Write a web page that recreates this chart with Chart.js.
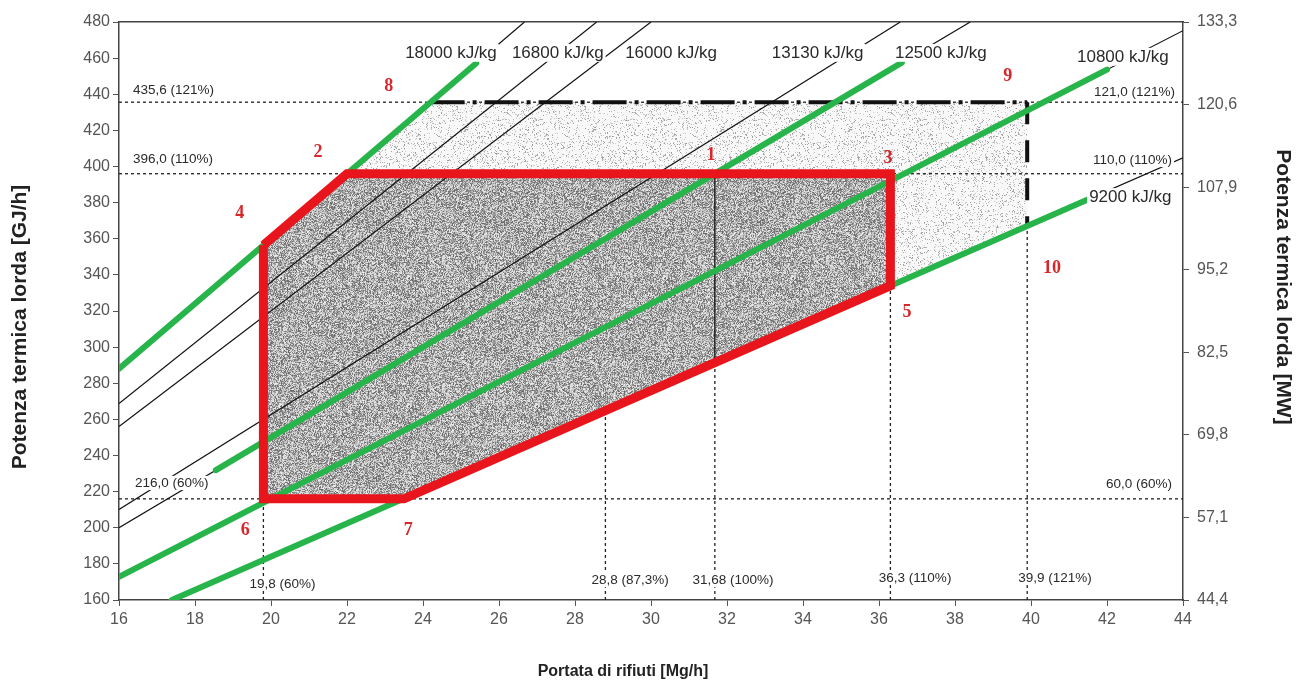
<!DOCTYPE html>
<html lang="it">
<head>
<meta charset="utf-8">
<title>Diagramma di combustione</title>
<script src="https://cdn.jsdelivr.net/npm/chart.js@4.4.1/dist/chart.umd.min.js"></script>
<style>
  html, body { margin: 0; padding: 0; background: #fff; }
  #box { width: 1296px; height: 686px; }
</style>
</head>
<body>
<div id="box"><canvas id="grafico" width="1296" height="686"></canvas></div>
<script>
// Asse destro in MW (stessa scala di quello sinistro in GJ/h)
const tickMW = [44.4, 57.1, 69.8, 82.5, 95.2, 107.9, 120.6, 133.3];

// Rette a potere calorifico costante (portata Mg/h, potenza GJ/h)
const isoNomi = ['18000 kJ/kg', '16800 kJ/kg', '16000 kJ/kg', '13130 kJ/kg', '12500 kJ/kg', '10800 kJ/kg', '9200 kJ/kg'];
const isoInizio = [[16, 288], [16, 268.8], [16, 256], [16, 210.1], [16, 200], [16, 172.8], [17.39, 160]];
const isoFine = [[26.67, 480], [28.57, 480], [30, 480], [36.56, 480], [38.4, 480], [44, 475.2], [44, 404.8]];

// Rette evidenziate in verde
const verdiInizio = [[16, 288], [18.55, 231.9], [16, 172.8], [17.39, 160]];
const verdiFine = [[25.4, 457.2], [36.6, 457.5], [42, 453.6], [41.6, 382.7]];

// Campo di funzionamento (punti 4-2-3-5-7-6)
const campoX = [19.8, 22, 36.3, 36.3, 23.5, 19.8, 19.8];
const campoY = [356.4, 396, 396, 334, 216, 216, 356.4];

// Campo di sovraccarico (punti 4-8-9-10-7-6)
const sovraX = [19.8, 24.2, 39.9, 39.9, 23.5, 19.8, 19.8];
const sovraY = [356.4, 435.6, 435.6, 367.1, 216, 216, 356.4];

// Linee di riferimento
const rifOrizz = [435.6, 396, 216];
const rifVert = [19.8, 28.8, 31.68, 36.3, 39.9];
const rifVertTop = [216, 265, 291.5, 334, 367.1];

// Punti numerati
const puntiNomi = ['1', '2', '3', '4', '5', '6', '7', '8', '9', '10'];
const puntiX = [31.58, 21.24, 36.24, 19.18, 36.74, 19.32, 23.61, 23.1, 39.39, 40.55];
const puntiY = [406.4, 408.1, 404.7, 374.3, 319.5, 198.8, 198.8, 444.6, 450.1, 343.8];

// Etichette (testo, posizione in coordinate del grafico)
const note = [
  { t: '435,6 (121%)', x: 16.37, y: 442.4, a: 'left', f: '13.5px "Liberation Sans"' },
  { t: '396,0 (110%)', x: 16.37, y: 404.2, a: 'left', f: '13.5px "Liberation Sans"' },
  { t: '216,0 (60%)', x: 16.42, y: 224.8, a: 'left', f: '13.5px "Liberation Sans"' },
  { t: '121,0 (121%)', x: 43.79, y: 441.3, a: 'right', f: '13.5px "Liberation Sans"' },
  { t: '110,0 (110%)', x: 43.71, y: 403.6, a: 'right', f: '13.5px "Liberation Sans"' },
  { t: '60,0 (60%)', x: 43.71, y: 224.2, a: 'right', f: '13.5px "Liberation Sans"' },
  { t: '19,8 (60%)', x: 20.3, y: 168.9, a: 'center', f: '13.5px "Liberation Sans"' },
  { t: '28,8 (87,3%)', x: 29.45, y: 171, a: 'center', f: '13.5px "Liberation Sans"' },
  { t: '31,68 (100%)', x: 32.16, y: 171, a: 'center', f: '13.5px "Liberation Sans"' },
  { t: '36,3 (110%)', x: 36.95, y: 172.2, a: 'center', f: '13.5px "Liberation Sans"' },
  { t: '39,9 (121%)', x: 40.63, y: 172.2, a: 'center', f: '13.5px "Liberation Sans"' },
  { t: isoNomi[0], x: 23.53, y: 462.9, a: 'left', f: '17px "Liberation Sans"' },
  { t: isoNomi[1], x: 26.34, y: 462.9, a: 'left', f: '17px "Liberation Sans"' },
  { t: isoNomi[2], x: 29.32, y: 462.9, a: 'left', f: '17px "Liberation Sans"' },
  { t: isoNomi[3], x: 33.18, y: 462.9, a: 'left', f: '17px "Liberation Sans"' },
  { t: isoNomi[4], x: 36.42, y: 462.9, a: 'left', f: '17px "Liberation Sans"' },
  { t: isoNomi[5], x: 41.21, y: 460.7, a: 'left', f: '17px "Liberation Sans"' },
  { t: isoNomi[6], x: 41.53, y: 383.1, a: 'left', f: '17px "Liberation Sans"' }
];

// Trama puntinata per le aree (solo aspetto grafico)
function hash(i) {
  const t = Math.sin(i * 12.9898 + 78.233) * 43758.5453;
  return t - Math.floor(t);
}
function creaTrama(chiaro) {
  const c = document.createElement('canvas');
  c.width = 128; c.height = 128;
  const g = c.getContext('2d');
  const img = g.createImageData(128, 128);
  for (let i = 0; i < 128 * 128; i++) {
    const r = hash(i), s = hash(i + 7919);
    let v;
    if (chiaro) v = r < 0.15 ? 150 + s * 70 : 248;
    else v = r < 0.5 ? 100 + s * 70 : 180 + s * 60;
    img.data[i * 4] = v; img.data[i * 4 + 1] = v; img.data[i * 4 + 2] = v; img.data[i * 4 + 3] = 255;
  }
  g.putImageData(img, 0, 0);
  return g.createPattern(c, 'repeat');
}

function punti(xs, ys) { return xs.map((x, i) => ({ x: x, y: ys[i] })); }
function segmento(a, b, stile) {
  return Object.assign({ data: [{ x: a[0], y: a[1] }, { x: b[0], y: b[1] }], pointRadius: 0, fill: false, tension: 0 }, stile);
}

const datasets = [];

// aree
datasets.push({ data: punti(sovraX, sovraY), fill: 'shape', backgroundColor: creaTrama(true), borderColor: 'transparent', borderWidth: 0, pointRadius: 0, order: 20 });
datasets.push({ data: punti(campoX, campoY), fill: 'shape', backgroundColor: creaTrama(false), borderColor: 'transparent', borderWidth: 0, pointRadius: 0, order: 19 });

// linee tratteggiate di riferimento
rifOrizz.forEach(v => datasets.push(segmento([16, v], [44, v], { borderColor: '#222', borderWidth: 1.3, borderDash: [3, 3], order: 15 })));
rifVert.forEach((v, i) => datasets.push(segmento([v, 160], [v, rifVertTop[i]], { borderColor: '#222', borderWidth: 1.3, borderDash: [3, 3], order: 15 })));

// rette iso-potere calorifico
isoInizio.forEach((p, i) => datasets.push(segmento(p, isoFine[i], { borderColor: '#111', borderWidth: 1.2, order: 14 })));

// linea verticale al 100%
datasets.push(segmento([31.68, 291.5], [31.68, 396], { borderColor: '#111', borderWidth: 1.3, order: 13 }));

// limiti di sovraccarico (tratto spesso)
datasets.push(segmento([24.2, 435.6], [39.9, 435.6], { borderColor: '#111', borderWidth: 4, borderDash: [34, 8, 4, 8], order: 12 }));
datasets.push(segmento([39.9, 435.6], [39.9, 367.1], { borderColor: '#111', borderWidth: 4, borderDash: [22, 16], order: 12 }));

// rette verdi
verdiInizio.forEach((p, i) => datasets.push(segmento(p, verdiFine[i], { borderColor: '#27b44a', borderWidth: 6, borderCapStyle: 'round', order: 4 })));

// campo di funzionamento (sopra le rette verdi)
datasets.push({ data: punti(campoX, campoY), fill: false, borderColor: '#e8161c', borderWidth: 9, pointRadius: 0, tension: 0, order: 2 });

const pluginNote = {
  id: 'note',
  afterDatasetsDraw(chart) {
    const ctx = chart.ctx;
    const sx = chart.scales.x, sy = chart.scales.y;
    ctx.save();
    ctx.textBaseline = 'middle';
    note.forEach(n => {
      const px = sx.getPixelForValue(n.x), py = sy.getPixelForValue(n.y);
      ctx.font = n.f;
      ctx.textAlign = n.a;
      const w = ctx.measureText(n.t).width;
      const h = parseFloat(n.f) * 1.05;
      let x0 = px;
      if (n.a === 'center') x0 = px - w / 2;
      if (n.a === 'right') x0 = px - w;
      ctx.fillStyle = '#fff';
      ctx.fillRect(x0 - 2, py - h / 2, w + 4, h);
      ctx.fillStyle = '#2a2a2a';
      ctx.fillText(n.t, px, py);
    });
    ctx.font = 'bold 18px "Liberation Serif"';
    ctx.textAlign = 'center';
    ctx.fillStyle = '#d8262b';
    puntiNomi.forEach((t, i) => ctx.fillText(t, sx.getPixelForValue(puntiX[i]), sy.getPixelForValue(puntiY[i])));
    ctx.restore();
  },
  afterDraw(chart) {
    const ctx = chart.ctx;
    ctx.save();
    ctx.fillStyle = '#222';
    ctx.textAlign = 'center';
    ctx.textBaseline = 'middle';
    ctx.font = 'bold 16px "Liberation Sans"';
    ctx.fillText('Portata di rifiuti [Mg/h]', 623, 672);
    ctx.font = 'bold 21px "Liberation Sans"';
    ctx.translate(20, 327);
    ctx.rotate(-Math.PI / 2);
    ctx.fillText('Potenza termica lorda [GJ/h]', 0, 0);
    ctx.restore();
    ctx.save();
    ctx.fillStyle = '#222';
    ctx.textAlign = 'center';
    ctx.textBaseline = 'middle';
    ctx.font = 'bold 21px "Liberation Sans"';
    ctx.translate(1283, 287);
    ctx.rotate(Math.PI / 2);
    ctx.fillText('Potenza termica lorda [MW]', 0, 0);
    ctx.restore();
  }
};

Chart.defaults.font.family = '"Liberation Sans", Arial, sans-serif';

const griglia = { drawOnChartArea: false, drawTicks: true, tickLength: 6, color: '#555' };
const bordo = { color: '#444', width: 1.5 };

new Chart(document.getElementById('grafico'), {
  type: 'line',
  data: { datasets: datasets },
  options: {
    responsive: false,
    animation: false,
    events: [],
    layout: { padding: { top: 22, left: 0, right: 0, bottom: 0 } },
    plugins: { legend: { display: false }, tooltip: { enabled: false } },
    scales: {
      x: {
        type: 'linear', position: 'bottom', min: 16, max: 44,
        ticks: { stepSize: 2, color: '#555', font: { size: 16 }, padding: 4, maxRotation: 0 },
        grid: griglia, border: bordo,
        afterFit(s) { s.height = 86; }
      },
      xTop: {
        type: 'linear', position: 'top', min: 16, max: 44,
        ticks: { display: false },
        grid: { drawOnChartArea: false, drawTicks: false },
        border: bordo,
        afterFit(s) { s.height = 0; }
      },
      y: {
        type: 'linear', position: 'left', min: 160, max: 480,
        ticks: { stepSize: 20, color: '#555', font: { size: 16 }, padding: 3 },
        grid: griglia, border: bordo,
        afterFit(s) { s.width = 119; }
      },
      y2: {
        type: 'linear', position: 'right', min: 44.4, max: 133.3,
        afterBuildTicks(s) { s.ticks = tickMW.map(v => ({ value: v })); },
        ticks: { color: '#555', font: { size: 16 }, padding: 8, callback: v => v.toFixed(1).replace('.', ',') },
        grid: griglia, border: bordo,
        afterFit(s) { s.width = 113; }
      }
    }
  },
  plugins: [pluginNote]
});
</script>
</body>
</html>
